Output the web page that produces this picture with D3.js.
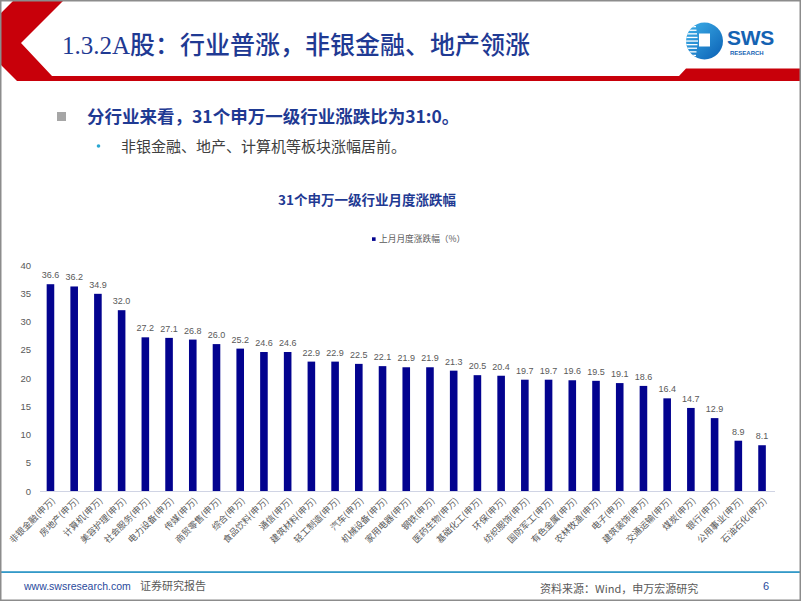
<!DOCTYPE html>
<html><head><meta charset="utf-8">
<script src="https://cdn.jsdelivr.net/npm/d3@7"></script>
<style>
html,body{margin:0;padding:0;background:#fff;}
svg{display:block;}
</style></head>
<body>
<svg id="c" width="802" height="602"></svg>
<script>
const categories = ["非银金融(申万)","房地产(申万)","计算机(申万)","美容护理(申万)","社会服务(申万)","电力设备(申万)","传媒(申万)","商贸零售(申万)","综合(申万)","食品饮料(申万)","通信(申万)","建筑材料(申万)","轻工制造(申万)","汽车(申万)","机械设备(申万)","家用电器(申万)","钢铁(申万)","医药生物(申万)","基础化工(申万)","环保(申万)","纺织服饰(申万)","国防军工(申万)","有色金属(申万)","农林牧渔(申万)","电子(申万)","建筑装饰(申万)","交通运输(申万)","煤炭(申万)","银行(申万)","公用事业(申万)","石油石化(申万)"];
const values = [36.6,36.2,34.9,32.0,27.2,27.1,26.8,26.0,25.2,24.6,24.6,22.9,22.9,22.5,22.1,21.9,21.9,21.3,20.5,20.4,19.7,19.7,19.6,19.5,19.1,18.6,16.4,14.7,12.9,8.9,8.1];
const yTicks = [0,5,10,15,20,25,30,35,40];
const seriesName = "上月月度涨跌幅（%）";
const chartTitle = "31个申万一级行业月度涨跌幅";
const pageTitleNum = "1.3.2A";
const pageTitleText = "股：行业普涨，非银金融、地产领涨";
const bullet1 = "分行业来看，31个申万一级行业涨跌比为31:0。";
const bullet2 = "非银金融、地产、计算机等板块涨幅居前。";

const svg = d3.select("#c");
const CJK = "'Noto Sans CJK SC','Noto Sans',sans-serif";
const blue = "#1f3a93";
const barColor = "#03038f";
const gray = "#595959";

// header red chevron
svg.append("path")
  .attr("d","M13,1 L63,1 L21,43 L52,76 L679,76 L686,68.5 L800,68.5 L800,81 L17,81 L0,64 L0,14 Z")
  .attr("fill","#c8000a");

// title
const tt = svg.append("text").attr("x",62).attr("y",54).attr("fill",blue).attr("font-size",25);
tt.append("tspan").attr("font-family","'Liberation Serif',serif").text(pageTitleNum);
tt.append("tspan").attr("font-family",CJK).attr("font-weight",500).text(pageTitleText);

// logo
const defs = svg.append("defs");
const lg = defs.append("linearGradient").attr("id","lg").attr("x1","0").attr("y1","0").attr("x2","1").attr("y2","1");
lg.append("stop").attr("offset","0").attr("stop-color","#3fb2ea");
lg.append("stop").attr("offset","1").attr("stop-color","#0a5fb4");
defs.append("clipPath").attr("id","lc").append("circle").attr("cx",704.5).attr("cy",41).attr("r",18.5);
const logo = svg.append("g");
logo.append("circle").attr("cx",704.5).attr("cy",41).attr("r",18.5).attr("fill","url(#lg)");
const stripes = logo.append("g").attr("clip-path","url(#lc)");
d3.range(9).forEach(i=>{
  stripes.append("rect").attr("x",684).attr("y",26+i*3.6).attr("width",14 - Math.abs(i-4)*0.5).attr("height",1.3).attr("fill","#fff");
});
logo.append("rect").attr("x",699).attr("y",33.5).attr("width",11).attr("height",13).attr("fill","#fff");
svg.append("text").attr("x",727).attr("y",45).attr("font-family","'Liberation Sans',Arial,sans-serif")
  .attr("font-weight",700).attr("font-size",21).attr("fill","#1563b3").attr("letter-spacing",-0.3).text("SWS");
svg.append("text").attr("x",730).attr("y",55).attr("font-family","'Liberation Sans',Arial,sans-serif")
  .attr("font-weight",700).attr("font-size",6).attr("fill","#1563b3").text("RESEARCH");

// bullets
svg.append("rect").attr("x",57).attr("y",112).attr("width",9).attr("height",9).attr("fill","#a6a6a6");
svg.append("text").attr("x",87).attr("y",122.5).attr("font-family",CJK).attr("font-weight",700)
  .attr("font-size",17.5).attr("fill",blue).text(bullet1);
svg.append("circle").attr("cx",98.5).attr("cy",146).attr("r",1.8).attr("fill","#2aa7d1");
svg.append("text").attr("x",121).attr("y",151.5).attr("font-family",CJK)
  .attr("font-size",15).attr("fill","#404040").text(bullet2);

// chart title
svg.append("text").attr("x",367).attr("y",205.3).attr("text-anchor","middle").attr("font-family",CJK)
  .attr("font-weight",700).attr("font-size",13.5).attr("fill",blue).text(chartTitle);

// legend
svg.append("rect").attr("x",372).attr("y",237.3).attr("width",3.6).attr("height",3.6).attr("fill",barColor);
svg.append("text").attr("x",379).attr("y",242.2).attr("font-family",CJK).attr("font-size",8.7)
  .attr("fill",gray).text(seriesName);

// scales
const x = d3.scaleBand().domain(categories).range([38.6,773.9]).paddingInner(0.68).paddingOuter(0.34);
const y = d3.scaleLinear().domain([0,40]).range([491,265]);

// y axis labels
const ya = svg.append("g").attr("transform","translate(31,0)")
  .call(d3.axisLeft(y).tickValues(yTicks).tickSize(0).tickPadding(0));
ya.select(".domain").remove();
ya.selectAll("text").attr("font-family","'Liberation Sans',Arial,sans-serif").attr("font-size",9.5).attr("fill",gray);

// bars
svg.append("g").selectAll("rect").data(values).join("rect")
  .attr("x",(d,i)=>x(categories[i]))
  .attr("y",d=>y(d))
  .attr("width",x.bandwidth())
  .attr("height",d=>y(0)-y(d))
  .attr("fill",barColor);

// value labels
svg.append("g").selectAll("text").data(values).join("text")
  .attr("x",(d,i)=>x(categories[i])+x.bandwidth()/2)
  .attr("y",d=>y(d)-6)
  .attr("text-anchor","middle")
  .attr("font-family","'Liberation Sans',Arial,sans-serif").attr("font-size",9)
  .attr("fill",gray).text(d=>d.toFixed(1));

// x axis
const xa = svg.append("g").attr("transform","translate(0,491)")
  .call(d3.axisBottom(x).tickSize(0).tickSizeOuter(0).tickPadding(0));
xa.select(".domain").attr("stroke","#d0d4e4").attr("stroke-width",1).attr("d","M40,0.5H775");
xa.selectAll(".tick text")
  .attr("font-family",CJK).attr("font-size",9).attr("fill",gray)
  .attr("text-anchor","end").attr("dy","0.35em")
  .attr("transform","translate(3,8) rotate(-45)").attr("y",0).attr("x",0);

// footer
svg.append("rect").attr("x",0).attr("y",571.2).attr("width",800).attr("height",1.8).attr("fill","#3399c8");
svg.append("text").attr("x",24).attr("y",589.5).attr("font-family","'Liberation Sans',Arial,sans-serif")
  .attr("font-size",10.5).attr("fill","#2a4a9c").text("www.swsresearch.com");
svg.append("text").attr("x",140).attr("y",589.5).attr("font-family",CJK)
  .attr("font-size",11).attr("fill",gray).text("证券研究报告");
svg.append("text").attr("x",540).attr("y",592.5).attr("font-family",CJK)
  .attr("font-size",11).attr("fill",gray).text("资料来源：Wind，申万宏源研究");
svg.append("text").attr("x",763).attr("y",590).attr("font-family","'Liberation Sans',Arial,sans-serif")
  .attr("font-size",11).attr("fill","#2a4a9c").text("6");

// page border
svg.append("rect").attr("x",0.75).attr("y",0.75).attr("width",799.5).attr("height",599.5)
  .attr("fill","none").attr("stroke","#8c8c8c").attr("stroke-width",1.5);
</script>
</body></html>
